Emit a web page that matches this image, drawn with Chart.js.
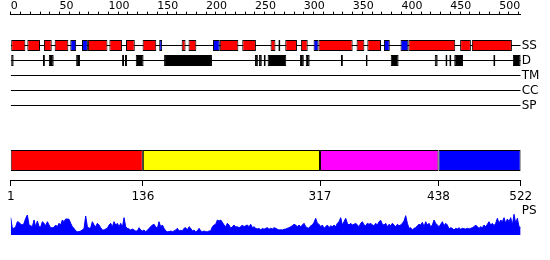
<!DOCTYPE html>
<html>
<head>
<meta charset="utf-8">
<script src="https://cdn.jsdelivr.net/npm/chart.js@4.4.0/dist/chart.umd.min.js"></script>
<style>
  html, body { margin: 0; padding: 0; background: #fff; }
</style>
</head>
<body>
<canvas id="feat" width="550" height="260"></canvas>
<script>
// ---- data (residue numbers) ----
const seqLength = 522;
const trackNames = ['SS', 'D', 'TM', 'CC', 'SP'];
const helixRanges = [[0,15],[17,30],[34,42],[45,59],[79,99],[101,114],[118,127],[135,149],
  [175,179],[182,190],[214,233],[237,251],[266,271],[274,276],[281,293],[297,304],
  [315,350],[354,362],[365,379],[407,455],[460,471],[472,513]];
const strandRanges = [[61,67],[73,79],[152,155],[207,214],[310,315],[382,388],[399,407]];
const disorderRanges = [[0,3],[33,35],[39,44],[67,71],[114,116],[117,119],[128,136],[157,206],
  [250,253],[254,257],[259,261],[263,282],[296,300],[302,306],[338,340],[363.5,365.3],[389,397],
  [434,437],[445,447],[449,451],[454,463],[494,496],[514,522]];
const domainBounds = [1, 136, 317, 438, 522];
const psScores = [
  17.3,6.7,6.7,8.3,13.3,12.7,10.7,10,11.7,16.7, 20,10,9.3,8.3,15,8.3,14,8.3,8,13.3,
  11.7,9.3,13.3,10,7.3,7.3,7.7,10,8.3,11.7, 10,15,13.3,16,16,15.7,11.7,8.3,6.7,4,
  3.3,3.3,4,5,6.7,19,8.3,6.7,7.3,13.3, 10,8.3,11.7,10,7.3,5,5,6,6.7,10,
  11.7,8.3,13.3,10,11.7,8.3,11.7,7.7,17.3,8.3, 6.7,6,5,6,5,4,4,7.3,5,4,
  5,3.3,4.7,6.7,8.3,10,10.7,8.3,6.7,13.3, 8.3,10,6.7,4,3.3,3.3,4,3.3,4,5,
  6.7,4,4.7,4,6.7,7.3,5,8.3,6.7,4, 5,3.3,4,6.7,4,3.3,4,3.3,3.3,4,
  4,8.3,10,10.7,15,14,15,12.7,10,8.3, 11.7,10,6.7,8.3,10,8,8.3,7.3,8.3,10,
  8.3,9.3,10,8.3,10.7,7.3,8.3,6.7,6,6.7, 5,6.7,5.7,6.7,7.3,5.7,6.7,6,7.3,
  6.7,5.7,5,5.3,5,5.7,6,6.7,7.3,8.3, 9.3,10.7,10,8.3,10,8.3,10,11.7,8.3,7.3,
  6.7,9.3,10,12.7,16.7,11.7,10.7,8.3,10,6.7, 8.3,10,7.3,9.3,8.3,10,8.3,11.7,13.3,17.3,
  10,13.3,16.7,11.7,10,11.7,10,10.7,11.7,10, 8.3,11.7,13.3,10,9.3,11.7,10.7,11.7,10,9.3,
  11.7,10,13.3,14.7,10.7,10,11.7,8.3,10.7,9.3, 11.7,10,8.3,10.7,9.3,10,11.7,14,19.3,11.7,
  6.7,7.3,5,6.7,7.3,9.3,10.7,10,12.7,8.3, 13.3,10,11.7,8.3,10,15,11.7,10,8.3,10.7,
  13.3,9.3,11.7,10,6,7.3,6.7,5,6.7,6, 7.3,5.7,6.7,6.3,6,6.7,6,6.7,7.3,8.3,
  10,8.3,6.7,8.3,7.3,10,8.3,10.7,13.3,10, 11.7,9.3,11.7,16.7,11.7,15,13.3,17.3,11.7,16,
  13.3,17.3,10,20.7,11.7,16.7,8.3,7.3
];
const rulerStep = 10;
const rulerLabelStep = 50;

// ---- layout / style ----
const CANVAS_H = 260;
const PLOT_LEFT = 10.7;
const LABEL_W = 29.3;
const RULER_H = 14.6;
const lane = { SS: 45.5, D: 60.5, TM: 75.5, CC: 90.5, SP: 105.5, dom: 160.5, resAxis: 180.5, PS: 210.5 };
const PS_BASE = 235;
const HELIX = '#ff0000', STRAND = '#0000ff';
const DOMAIN_COLORS = ['#ff0000', '#ffff00', '#ff00ff', '#0000ff'];

Chart.defaults.font.family = "'DejaVu Sans', sans-serif";
Chart.defaults.color = '#000';

const ssData = helixRanges.map(r => ({ x: r, y: lane.SS }))
  .concat(strandRanges.map(r => ({ x: r, y: lane.SS })));
const ssColors = helixRanges.map(() => HELIX).concat(strandRanges.map(() => STRAND));

const domData = [];
for (let i = 0; i < domainBounds.length - 1; i++) {
  domData.push({ x: [domainBounds[i], domainBounds[i + 1]], y: lane.dom });
}

// floating horizontal bars, not grouped so they sit exactly on their lane
const barBase = {
  type: 'bar', indexAxis: 'y', grouped: false, yAxisID: 'y',
  categoryPercentage: 1, barPercentage: 2,
  borderColor: '#000', borderWidth: 1, borderSkipped: false, order: 1
};

const datasets = [
  { ...barBase, xAxisID: 'xTop', data: ssData, backgroundColor: ssColors, maxBarThickness: 11 },
  { ...barBase, xAxisID: 'xTop', data: disorderRanges.map(r => ({ x: r, y: lane.D })),
    backgroundColor: '#000', maxBarThickness: 11 },
  { ...barBase, xAxisID: 'xRes', data: domData, backgroundColor: DOMAIN_COLORS, maxBarThickness: 21 },
  {
    type: 'line', xAxisID: 'xPS', yAxisID: 'yPS', order: 3,
    data: psScores.map((v, i) => ({ x: i, y: v })),
    borderColor: '#0000ff', backgroundColor: '#0000ff', borderWidth: 1,
    pointRadius: 0, tension: 0, fill: 'origin'
  }
];
trackNames.forEach(name => {
  datasets.push({
    type: 'line', xAxisID: 'xTop', yAxisID: 'y', order: 2,
    data: [{ x: 0, y: lane[name] }, { x: seqLength, y: lane[name] }],
    borderColor: '#000', borderWidth: 1, pointRadius: 0, fill: false
  });
});

const laneTicks = trackNames.map(n => lane[n]).concat([lane.PS]);
const laneLabels = trackNames.concat(['PS']);

new Chart(document.getElementById('feat'), {
  type: 'line',
  data: { datasets },
  options: {
    responsive: false,
    animation: false,
    devicePixelRatio: 1,
    events: [],
    layout: { padding: { left: PLOT_LEFT, right: 0, top: 0, bottom: 0 } },
    plugins: { legend: { display: false }, tooltip: { enabled: false } },
    scales: {
      xTop: {
        type: 'linear', axis: 'x', position: 'top', min: 0, max: seqLength, offset: false,
        ticks: {
          stepSize: rulerStep, includeBounds: false, autoSkip: false, maxRotation: 0,
          align: 'start', padding: -1, font: { size: 11 },
          callback: v => (v % rulerLabelStep === 0 ? v : '')
        },
        grid: { drawOnChartArea: false, tickLength: 3, color: '#000' },
        border: { color: '#000', width: 1 },
        afterFit: s => { s.height = RULER_H; s.paddingLeft = 0; s.paddingRight = 0; }
      },
      xRes: {
        type: 'linear', axis: 'x', position: { y: lane.resAxis }, min: 1, max: seqLength, offset: false,
        afterBuildTicks: s => { s.ticks = domainBounds.map(v => ({ value: v })); },
        ticks: { autoSkip: false, maxRotation: 0, padding: 4, font: { size: 12 } },
        grid: { drawOnChartArea: false, tickLength: 5, color: '#000' },
        border: { color: '#000', width: 1 },
        afterFit: s => { s.paddingLeft = 0; s.paddingRight = 0; }
      },
      xPS: { type: 'linear', axis: 'x', display: false, offset: false, min: 0, max: psScores.length - 1 },
      y: {
        type: 'linear', position: 'right', reverse: true, offset: false, min: RULER_H, max: CANVAS_H,
        afterBuildTicks: s => { s.ticks = laneTicks.map(v => ({ value: v })); },
        ticks: { autoSkip: false, padding: 1, font: { size: 12 }, callback: (v, i) => laneLabels[i] },
        grid: { display: false, drawTicks: false, offset: false },
        border: { display: false },
        afterFit: s => { s.width = LABEL_W; s.paddingTop = 0; s.paddingBottom = 0; }
      },
      yPS: {
        type: 'linear', position: 'left', display: false, offset: false,
        min: -(CANVAS_H - PS_BASE), max: -(CANVAS_H - PS_BASE) + (CANVAS_H - RULER_H)
      }
    }
  }
});
</script>
</body>
</html>
